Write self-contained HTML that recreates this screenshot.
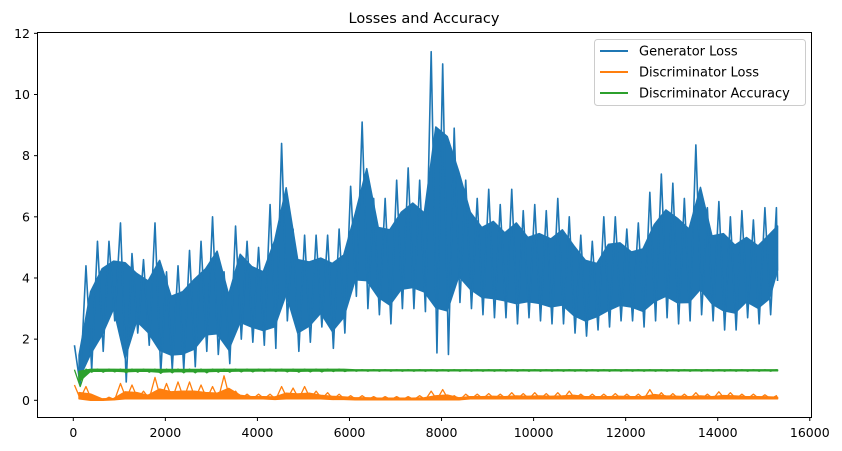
<!DOCTYPE html>
<html><head><meta charset="utf-8"><style>
html,body{margin:0;padding:0;background:#fff;}
svg{display:block;font-family:"DejaVu Sans","Liberation Sans",sans-serif;}
</style></head><body>
<svg id="chart" width="842" height="451" viewBox="0 0 842 451">
<text x="424" y="23" text-anchor="middle" font-size="14.5" fill="#000">Losses and Accuracy</text>
<g id="series"></g>
<rect x="37.5" y="32.5" width="774" height="385" fill="none" stroke="#000" stroke-width="1"/>
<g id="xticks"></g>
<g id="yticks"></g>
<g>
<rect x="594.5" y="39.5" width="211" height="66" rx="3" fill="#fff" fill-opacity="0.8" stroke="#ccc"/>
<line x1="600" y1="51" x2="628" y2="51" stroke="#1f77b4" stroke-width="2"/>
<text x="639" y="55.5" font-size="13">Generator Loss</text>
<line x1="600" y1="72" x2="628" y2="72" stroke="#ff7f0e" stroke-width="2"/>
<text x="639" y="76.5" font-size="13">Discriminator Loss</text>
<line x1="600" y1="93" x2="628" y2="93" stroke="#2ca02c" stroke-width="2"/>
<text x="639" y="97.5" font-size="13">Discriminator Accuracy</text>
</g>
</svg>
<script>
const bucketStep = 250;
const maxStep = 15300;
const genHi = [1.8,4.4,5.2,5.2,5.8,4.8,4.6,5.8,4.2,4.4,4.9,5.2,6.0,4.2,5.7,5.2,5.0,6.4,8.4,5.6,5.4,5.4,5.4,5.6,7.0,9.1,6.6,6.6,7.2,7.6,7.2,11.4,11.0,8.9,7.2,6.6,6.9,6.4,6.9,6.2,6.4,6.2,6.6,6.0,5.4,5.2,6.0,6.0,5.6,5.8,6.8,7.4,7.1,6.6,8.35,6.3,6.5,6.0,6.2,5.9,6.3,6.3];
const genLo = [0.5,1.0,1.6,2.6,0.6,2.2,1.8,0.9,1.0,1.0,1.1,1.6,1.5,1.2,2.0,1.9,1.8,1.7,2.6,1.6,1.9,2.4,1.7,2.2,3.4,3.0,2.8,2.5,3.0,3.0,2.9,1.55,1.5,3.2,3.0,2.8,2.7,2.7,2.5,2.7,2.6,2.5,2.5,2.2,2.1,2.3,2.4,2.6,2.6,2.4,2.6,2.7,2.5,2.6,2.8,2.6,2.3,2.3,2.7,2.5,2.8,3.9];
const dlHi = [0.5,0.45,0.1,0.1,0.55,0.5,0.3,0.75,0.55,0.6,0.6,0.5,0.45,0.8,0.3,0.2,0.2,0.2,0.45,0.4,0.45,0.3,0.25,0.2,0.15,0.15,0.12,0.12,0.12,0.12,0.15,0.3,0.35,0.15,0.2,0.2,0.22,0.2,0.25,0.22,0.25,0.22,0.25,0.3,0.2,0.2,0.2,0.22,0.2,0.2,0.35,0.25,0.22,0.2,0.25,0.2,0.28,0.25,0.2,0.2,0.18,0.15];
const dlLo = [0.05,0.0,0.0,0.02,0.05,0.05,0.05,0.05,0.05,0.05,0.05,0.05,0.05,0.05,0.05,0.05,0.05,0.03,0.05,0.05,0.05,0.05,0.03,0.03,0.02,0.02,0.02,0.02,0.02,0.02,0.02,0.02,0.02,0.02,0.05,0.05,0.05,0.05,0.05,0.05,0.05,0.05,0.05,0.05,0.05,0.05,0.05,0.05,0.05,0.05,0.05,0.05,0.05,0.05,0.05,0.05,0.05,0.05,0.05,0.05,0.05,0.05];
const accHi = [1.0,1.02,1.02,1.02,1.02,1.02,1.02,1.02,1.02,1.02,1.02,1.02,1.02,1.02,1.02,1.02,1.02,1.02,1.02,1.02,1.02,1.02,1.02,1.02,1.0,1.0,1.0,1.0,1.0,1.0,1.0,1.0,1.0,1.0,1.0,1.0,1.0,1.0,1.0,1.0,1.0,1.0,1.0,1.0,1.0,1.0,1.0,1.0,1.0,1.0,1.0,1.0,1.0,1.0,1.0,1.0,1.0,1.0,1.0,1.0,1.0,1.0];
const accLo = [0.45,0.92,0.92,0.93,0.9,0.92,0.92,0.88,0.9,0.9,0.9,0.9,0.92,0.92,0.93,0.93,0.94,0.94,0.93,0.92,0.93,0.93,0.94,0.94,0.95,0.95,0.95,0.95,0.95,0.95,0.95,0.95,0.95,0.95,0.95,0.95,0.95,0.95,0.95,0.95,0.95,0.95,0.95,0.95,0.95,0.95,0.95,0.95,0.95,0.95,0.95,0.95,0.95,0.95,0.95,0.95,0.95,0.95,0.95,0.95,0.95,0.95];
const xTickVals = [0,2000,4000,6000,8000,10000,12000,14000,16000];
const yTickVals = [0,2,4,6,8,10,12];

const NS = "http://www.w3.org/2000/svg";
function xs(v){ return 73.3 + v*0.04603; }
function ys(v){ return 400.3 - v*30.58; }
function cl(s){ return Math.min(s, maxStep); }

function zig(hi, lo){
  const pts = [];
  for(let i=0;i<hi.length;i++){
    const s = i*bucketStep;
    pts.push(xs(cl(s+0.1*bucketStep)).toFixed(2)+","+ys(hi[i]).toFixed(2));
    pts.push(xs(cl(s+0.6*bucketStep)).toFixed(2)+","+ys(lo[i]).toFixed(2));
  }
  return pts.join(" ");
}
function band(hi, lo, a, b){
  const top=[], bot=[];
  for(let i=0;i<hi.length;i++){
    const s=cl((i+0.5)*bucketStep), r=hi[i]-lo[i];
    top.push(xs(s).toFixed(2)+","+ys(lo[i]+r*b).toFixed(2));
    bot.unshift(xs(s).toFixed(2)+","+ys(lo[i]+r*a).toFixed(2));
  }
  return top.concat(bot).join(" ");
}
const g = document.getElementById("series");
function addSeries(hi, lo, color, name, a, b, sw){
  const grp = document.createElementNS(NS,"g");
  
  
  const poly = document.createElementNS(NS,"polygon");
  poly.setAttribute("points", band(hi, lo, a, b));
  poly.setAttribute("fill", color);
  poly.setAttribute("stroke", color);
  poly.setAttribute("stroke-width", "1.5");
  poly.setAttribute("stroke-linejoin","round");
  
  
  grp.appendChild(poly);
  const pl = document.createElementNS(NS,"polyline");
  pl.setAttribute("points", zig(hi, lo));
  pl.setAttribute("fill","none");
  pl.setAttribute("stroke", color);
  pl.setAttribute("stroke-width", sw);
  pl.setAttribute("stroke-linejoin","round");
  
  
  grp.appendChild(pl);
  g.appendChild(grp);
}
addSeries(genHi, genLo, "#1f77b4", "generator-loss-series", 0.15, 0.75, "1.6");
addSeries(dlHi, dlLo, "#ff7f0e", "discriminator-loss-series", 0.0, 0.45, "1.3");
addSeries(accHi, accLo, "#2ca02c", "discriminator-accuracy-series", 0.3, 0.9, "1.3");

const xt = document.getElementById("xticks");
xTickVals.forEach(v=>{
  const x = xs(v);
  const l = document.createElementNS(NS,"line");
  l.setAttribute("x1",x); l.setAttribute("x2",x); l.setAttribute("y1",417.5); l.setAttribute("y2",421);
  l.setAttribute("stroke","#000");
  
  
  xt.appendChild(l);
  const t = document.createElementNS(NS,"text");
  t.setAttribute("x",x); t.setAttribute("y",437); t.setAttribute("text-anchor","middle"); t.setAttribute("font-size","12.5");
  t.textContent = v;
  
  
  xt.appendChild(t);
});
const yt = document.getElementById("yticks");
yTickVals.forEach(v=>{
  const y = ys(v);
  const l = document.createElementNS(NS,"line");
  l.setAttribute("x1",34); l.setAttribute("x2",37.5); l.setAttribute("y1",y); l.setAttribute("y2",y);
  l.setAttribute("stroke","#000");
  
  
  yt.appendChild(l);
  const t = document.createElementNS(NS,"text");
  t.setAttribute("x",30); t.setAttribute("y",y+4.5); t.setAttribute("text-anchor","end"); t.setAttribute("font-size","12.5");
  t.textContent = v;
  
  
  yt.appendChild(t);
});
</script>
</body></html>
